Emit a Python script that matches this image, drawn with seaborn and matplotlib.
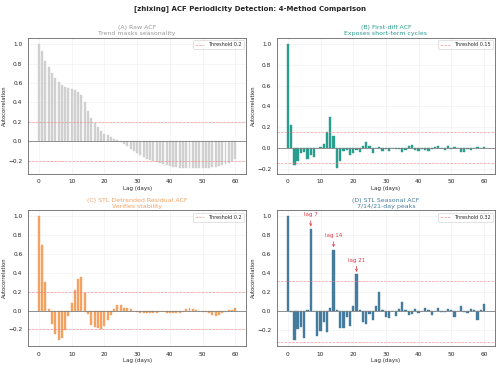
import numpy as np
import pandas as pd
import matplotlib
matplotlib.use("Agg")
import matplotlib.pyplot as plt
import seaborn as sns

lags = list(range(61))

acf_raw = [1.00, 0.93, 0.83, 0.76, 0.70, 0.65, 0.61, 0.58, 0.56, 0.55,
           0.54, 0.53, 0.51, 0.48, 0.40, 0.31, 0.24, 0.19, 0.15, 0.11,
           0.08, 0.06, 0.04, 0.02, 0.01, -0.01, -0.03, -0.05, -0.08, -0.10,
           -0.12, -0.14, -0.16, -0.18, -0.19, -0.20, -0.21, -0.22, -0.23, -0.24,
           -0.25, -0.26, -0.26, -0.27, -0.27, -0.27, -0.27, -0.27, -0.27, -0.27,
           -0.27, -0.27, -0.27, -0.26, -0.26, -0.25, -0.24, -0.23, -0.22, -0.20,
           -0.18]

acf_diff = [1.00, 0.22, -0.17, -0.13, -0.05, -0.04, -0.11, -0.07, -0.09, 0.00,
            0.01, 0.04, 0.15, 0.30, 0.11, -0.19, -0.13, -0.03, -0.02, -0.07,
            -0.05, -0.02, -0.04, 0.02, 0.06, 0.02, -0.05, 0.00, 0.01, -0.03,
            -0.01, -0.03, 0.00, -0.01, -0.01, -0.04, -0.02, 0.02, 0.03, -0.02,
            -0.03, -0.01, -0.02, -0.03, -0.01, 0.01, 0.02, 0.00, -0.02, 0.02,
            -0.01, 0.01, 0.00, -0.04, -0.04, -0.01, -0.02, 0.00, 0.01, 0.00,
            0.01]

acf_resid = [1.00, 0.70, 0.30, 0.02, -0.14, -0.25, -0.31, -0.29, -0.21, -0.06,
             0.08, 0.22, 0.34, 0.36, 0.19, -0.04, -0.15, -0.17, -0.18, -0.19,
             -0.16, -0.10, -0.05, 0.02, 0.06, 0.06, 0.03, 0.03, 0.02, 0.00,
             -0.01, -0.02, -0.02, -0.02, -0.03, -0.03, -0.02, 0.00, 0.00, -0.02,
             -0.02, -0.03, -0.03, -0.02, 0.00, 0.02, 0.03, 0.02, 0.01, 0.00,
             -0.01, -0.01, -0.02, -0.05, -0.06, -0.05, -0.03, -0.01, 0.01, 0.01,
             0.03]

acf_seas = [1.00, -0.01, -0.30, -0.19, -0.16, -0.28, 0.01, 0.87, 0.00, -0.26,
            -0.21, -0.11, -0.22, 0.04, 0.65, 0.01, -0.18, -0.18, -0.06, -0.15,
            0.06, 0.39, 0.01, -0.11, -0.13, -0.03, -0.09, 0.06, 0.20, 0.01,
            -0.06, -0.07, 0.00, -0.05, 0.03, 0.10, 0.01, -0.04, -0.03, 0.02,
            -0.02, 0.00, 0.04, 0.01, -0.04, 0.00, 0.04, -0.01, -0.01, 0.02,
            0.01, -0.06, 0.00, 0.06, -0.01, -0.02, 0.02, 0.01, -0.09, 0.01,
            0.08]

thresholds = [0.2, 0.15, 0.2, 0.32]
titles = ["(A) Raw ACF\nTrend masks seasonality",
          "(B) First-diff ACF\nExposes short-term cycles",
          "(C) STL Detrended Residual ACF\nVerifies stability",
          "(D) STL Seasonal ACF\n7/14/21-day peaks"]
colors = ["#d0d0d0", "#2a9d8f", "#f4a261", "#457b9d"]
title_colors = ["#999999", "#2a9d8f", "#f4a261", "#457b9d"]
peak_lags = [7, 14, 21]
suptitle = "[zhixing] ACF Periodicity Detection: 4-Method Comparison"

sns.set_theme(style="whitegrid")
plt.rcParams['font.family'] = ['DejaVu Sans']

fig, axes = plt.subplots(2, 2, figsize=(10, 7.3), dpi=50)
fig.subplots_adjust(left=0.056, right=0.99, top=0.896, bottom=0.052,
                    wspace=0.14, hspace=0.27)

series = [acf_raw, acf_diff, acf_resid, acf_seas]
widths = [0.6, 0.7, 0.6, 0.7]
for i, ax in enumerate(axes.flat):
    df = pd.DataFrame({"lag": lags, "acf": series[i]})
    sns.barplot(data=df, x="lag", y="acf", native_scale=True, color=colors[i],
                width=widths[i], saturation=1, edgecolor=colors[i],
                linewidth=0.6, ax=ax)
    ax.axhline(0, color="gray", lw=1.2)
    th = thresholds[i]
    ax.axhline(th, color="#f08080", ls="--", lw=1, alpha=0.8,
               label=f"Threshold {th}")
    ax.axhline(-th, color="#f08080", ls="--", lw=1, alpha=0.8)
    ax.set_title(titles[i], color=title_colors[i], fontsize=9, pad=4)
    ax.set_xlabel("Lag (days)", fontsize=8, labelpad=2)
    ax.set_ylabel("Autocorrelation", fontsize=7.5, labelpad=2)
    ax.tick_params(labelsize=8.5, pad=2)
    ax.set_xticks([0, 10, 20, 30, 40, 50, 60])
    ax.grid(True, color="#eeeeee", lw=0.8)
    for s in ax.spines.values():
        s.set_color("#666666")
        s.set_linewidth(1.2)
    ax.legend(loc="upper right", fontsize=7, frameon=True)

axd = axes[1, 1]
for lg in peak_lags:
    v = acf_seas[lg]
    axd.annotate(f"lag {lg}", xy=(lg, v + 0.01), xytext=(lg, v + 0.12),
                 ha="center", va="bottom", color="#e63946", fontsize=8,
                 arrowprops=dict(arrowstyle="->", color="#e63946", lw=1))

fig.suptitle(suptitle, fontsize=10, fontweight="bold", y=0.985)
fig.savefig("out.png", dpi=50)
